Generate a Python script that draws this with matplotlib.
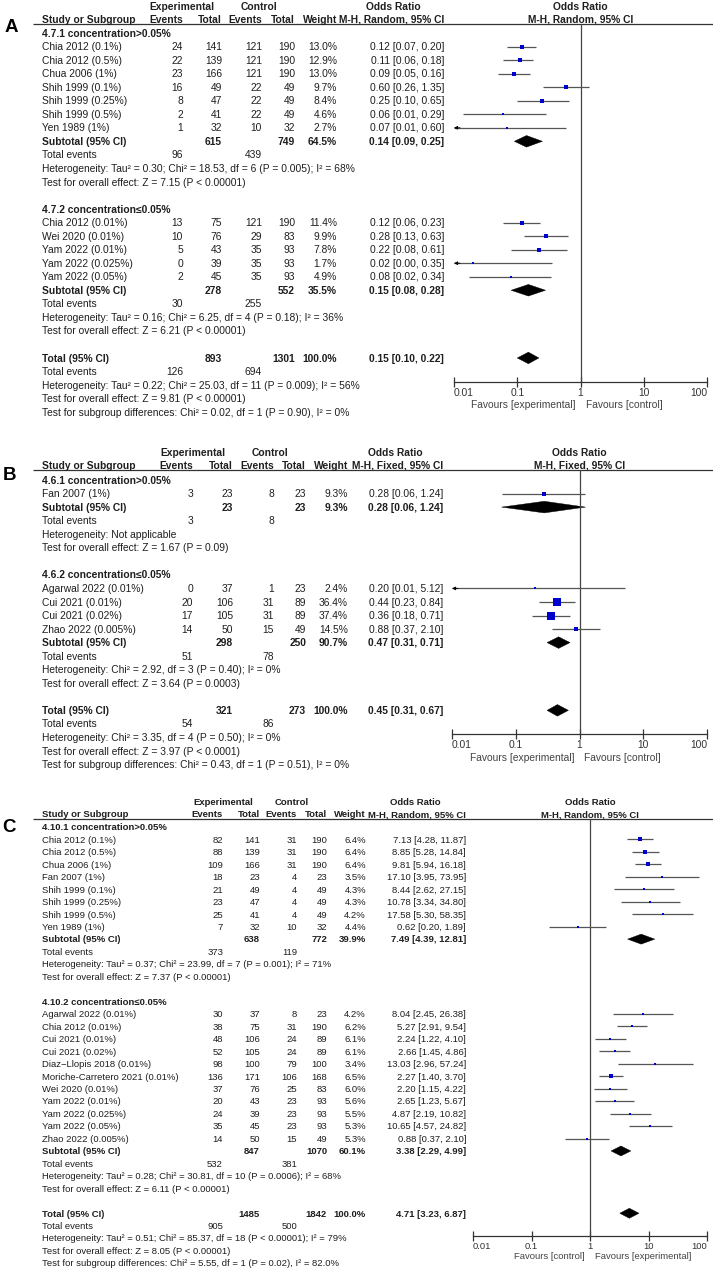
import matplotlib
matplotlib.use('Agg')
import matplotlib.pyplot as plt
from matplotlib.patches import Polygon
from matplotlib.ticker import NullLocator
from matplotlib.transforms import offset_copy
import math

plt.rcParams['font.family'] = ['Liberation Sans', 'DejaVu Sans']

W, H, DPI = 713, 1269, 100
TXT = '#1e1e1e'
GREY = '#555555'
BLUE = '#0000cc'

# ======================= Panel A data =======================
A1_title = "4.7.1 concentration>0.05%"
A1_study = ["Chia 2012 (0.1%)", "Chia 2012 (0.5%)", "Chua 2006 (1%)", "Shih 1999 (0.1%)",
            "Shih 1999 (0.25%)", "Shih 1999 (0.5%)", "Yen 1989 (1%)"]
A1_exp_events = [24, 22, 23, 16, 8, 2, 1]
A1_exp_total = [141, 139, 166, 49, 47, 41, 32]
A1_ctl_events = [121, 121, 121, 22, 22, 22, 10]
A1_ctl_total = [190, 190, 190, 49, 49, 49, 32]
A1_weight = [13.0, 12.9, 13.0, 9.7, 8.4, 4.6, 2.7]
A1_or = [0.12, 0.11, 0.09, 0.60, 0.25, 0.06, 0.07]
A1_lo = [0.07, 0.06, 0.05, 0.26, 0.10, 0.014, 0.0085]
A1_hi = [0.20, 0.18, 0.16, 1.35, 0.65, 0.29, 0.60]
A1_sub_n = [615, 749]
A1_sub_weight = 64.5
A1_sub_ci = [0.14, 0.09, 0.25]
A1_sub_events = [96, 439]
A1_het = "Heterogeneity: Tau\u00b2 = 0.30; Chi\u00b2 = 18.53, df = 6 (P = 0.005); I\u00b2 = 68%"
A1_test = "Test for overall effect: Z = 7.15 (P < 0.00001)"

A2_title = "4.7.2 concentration\u22640.05%"
A2_study = ["Chia 2012 (0.01%)", "Wei 2020 (0.01%)", "Yam 2022 (0.01%)", "Yam 2022 (0.025%)",
            "Yam 2022 (0.05%)"]
A2_exp_events = [13, 10, 5, 0, 2]
A2_exp_total = [75, 76, 43, 39, 45]
A2_ctl_events = [121, 29, 35, 35, 35]
A2_ctl_total = [190, 83, 93, 93, 93]
A2_weight = [11.4, 9.9, 7.8, 1.7, 4.9]
A2_or = [0.12, 0.28, 0.22, 0.02, 0.08]
A2_lo = [0.06, 0.13, 0.08, 0.001, 0.017]
A2_hi = [0.23, 0.63, 0.61, 0.35, 0.34]
A2_sub_n = [278, 552]
A2_sub_weight = 35.5
A2_sub_ci = [0.15, 0.08, 0.28]
A2_sub_events = [30, 255]
A2_het = "Heterogeneity: Tau\u00b2 = 0.16; Chi\u00b2 = 6.25, df = 4 (P = 0.18); I\u00b2 = 36%"
A2_test = "Test for overall effect: Z = 6.21 (P < 0.00001)"

A_total_n = [893, 1301]
A_total_ci = [0.15, 0.10, 0.22]
A_total_events = [126, 694]
A_total_het = "Heterogeneity: Tau\u00b2 = 0.22; Chi\u00b2 = 25.03, df = 11 (P = 0.009); I\u00b2 = 56%"
A_total_test = "Test for overall effect: Z = 9.81 (P < 0.00001)"
A_subgroup_test = "Test for subgroup differences: Chi\u00b2 = 0.02, df = 1 (P = 0.90), I\u00b2 = 0%"

# ======================= Panel B data =======================
B1_title = "4.6.1 concentration>0.05%"
B1_study = ["Fan 2007 (1%)"]
B1_exp_events = [3]
B1_exp_total = [23]
B1_ctl_events = [8]
B1_ctl_total = [23]
B1_weight = [9.3]
B1_or = [0.28]
B1_lo = [0.06]
B1_hi = [1.24]
B1_sub_n = [23, 23]
B1_sub_weight = 9.3
B1_sub_ci = [0.28, 0.06, 1.24]
B1_sub_events = [3, 8]
B1_het = "Heterogeneity: Not applicable"
B1_test = "Test for overall effect: Z = 1.67 (P = 0.09)"

B2_title = "4.6.2 concentration\u22640.05%"
B2_study = ["Agarwal 2022 (0.01%)", "Cui 2021 (0.01%)", "Cui 2021 (0.02%)", "Zhao 2022 (0.005%)"]
B2_exp_events = [0, 20, 17, 14]
B2_exp_total = [37, 106, 105, 50]
B2_ctl_events = [1, 31, 31, 15]
B2_ctl_total = [23, 89, 89, 49]
B2_weight = [2.4, 36.4, 37.4, 14.5]
B2_or = [0.20, 0.44, 0.36, 0.88]
B2_lo = [0.008, 0.23, 0.18, 0.37]
B2_hi = [5.12, 0.84, 0.71, 2.10]
B2_sub_n = [298, 250]
B2_sub_weight = 90.7
B2_sub_ci = [0.47, 0.31, 0.71]
B2_sub_events = [51, 78]
B2_het = "Heterogeneity: Chi\u00b2 = 2.92, df = 3 (P = 0.40); I\u00b2 = 0%"
B2_test = "Test for overall effect: Z = 3.64 (P = 0.0003)"

B_total_n = [321, 273]
B_total_ci = [0.45, 0.31, 0.67]
B_total_events = [54, 86]
B_total_het = "Heterogeneity: Chi\u00b2 = 3.35, df = 4 (P = 0.50); I\u00b2 = 0%"
B_total_test = "Test for overall effect: Z = 3.97 (P < 0.0001)"
B_subgroup_test = "Test for subgroup differences: Chi\u00b2 = 0.43, df = 1 (P = 0.51), I\u00b2 = 0%"

# ======================= Panel C data =======================
C1_title = "4.10.1 concentration>0.05%"
C1_study = ["Chia 2012 (0.1%)", "Chia 2012 (0.5%)", "Chua 2006 (1%)", "Fan 2007 (1%)",
            "Shih 1999 (0.1%)", "Shih 1999 (0.25%)", "Shih 1999 (0.5%)", "Yen 1989 (1%)"]
C1_exp_events = [82, 88, 109, 18, 21, 23, 25, 7]
C1_exp_total = [141, 139, 166, 23, 49, 47, 41, 32]
C1_ctl_events = [31, 31, 31, 4, 4, 4, 4, 10]
C1_ctl_total = [190, 190, 190, 23, 49, 49, 49, 32]
C1_weight = [6.4, 6.4, 6.4, 3.5, 4.3, 4.3, 4.2, 4.4]
C1_or = [7.13, 8.85, 9.81, 17.10, 8.44, 10.78, 17.58, 0.62]
C1_lo = [4.28, 5.28, 5.94, 3.95, 2.62, 3.34, 5.30, 0.20]
C1_hi = [11.87, 14.84, 16.18, 73.95, 27.15, 34.80, 58.35, 1.89]
C1_sub_n = [638, 772]
C1_sub_weight = 39.9
C1_sub_ci = [7.49, 4.39, 12.81]
C1_sub_events = [373, 119]
C1_het = "Heterogeneity: Tau\u00b2 = 0.37; Chi\u00b2 = 23.99, df = 7 (P = 0.001); I\u00b2 = 71%"
C1_test = "Test for overall effect: Z = 7.37 (P < 0.00001)"

C2_title = "4.10.2 concentration\u22640.05%"
C2_study = ["Agarwal 2022 (0.01%)", "Chia 2012 (0.01%)", "Cui 2021 (0.01%)", "Cui 2021 (0.02%)",
            "Diaz\u2212Llopis 2018 (0.01%)", "Moriche-Carretero 2021 (0.01%)", "Wei 2020 (0.01%)",
            "Yam 2022 (0.01%)", "Yam 2022 (0.025%)", "Yam 2022 (0.05%)", "Zhao 2022 (0.005%)"]
C2_exp_events = [30, 38, 48, 52, 98, 136, 37, 20, 24, 35, 14]
C2_exp_total = [37, 75, 106, 105, 100, 171, 76, 43, 39, 45, 50]
C2_ctl_events = [8, 31, 24, 24, 79, 106, 25, 23, 23, 23, 15]
C2_ctl_total = [23, 190, 89, 89, 100, 168, 83, 93, 93, 93, 49]
C2_weight = [4.2, 6.2, 6.1, 6.1, 3.4, 6.5, 6.0, 5.6, 5.5, 5.3, 5.3]
C2_or = [8.04, 5.27, 2.24, 2.66, 13.03, 2.27, 2.20, 2.65, 4.87, 10.65, 0.88]
C2_lo = [2.45, 2.91, 1.22, 1.45, 2.96, 1.40, 1.15, 1.23, 2.19, 4.57, 0.37]
C2_hi = [26.38, 9.54, 4.10, 4.86, 57.24, 3.70, 4.22, 5.67, 10.82, 24.82, 2.10]
C2_sub_n = [847, 1070]
C2_sub_weight = 60.1
C2_sub_ci = [3.38, 2.29, 4.99]
C2_sub_events = [532, 381]
C2_het = "Heterogeneity: Tau\u00b2 = 0.28; Chi\u00b2 = 30.81, df = 10 (P = 0.0006); I\u00b2 = 68%"
C2_test = "Test for overall effect: Z = 6.11 (P < 0.00001)"

C_total_n = [1485, 1842]
C_total_ci = [4.71, 3.23, 6.87]
C_total_events = [905, 500]
C_total_het = "Heterogeneity: Tau\u00b2 = 0.51; Chi\u00b2 = 85.37, df = 18 (P < 0.00001); I\u00b2 = 79%"
C_total_test = "Test for overall effect: Z = 8.05 (P < 0.00001)"
C_subgroup_test = "Test for subgroup differences: Chi\u00b2 = 5.55, df = 1 (P = 0.02), I\u00b2 = 82.0%"

AXIS_TICKS = [0.01, 0.1, 1, 10, 100]
AXIS_LABELS = ["0.01", "0.1", "1", "10", "100"]


def group(title, study, ee, te, ec, tc, w, o, lo, hi, sub_n, sub_w, sub_ci, sub_ev, het, test):
    return dict(title=title, study=study, ee=ee, te=te, ec=ec, tc=tc, w=w, o=o, lo=lo, hi=hi,
                sub_n=sub_n, sub_w=sub_w, sub_ci=sub_ci, sub_ev=sub_ev, het=het, test=test)


A_groups = [group(A1_title, A1_study, A1_exp_events, A1_exp_total, A1_ctl_events, A1_ctl_total,
                  A1_weight, A1_or, A1_lo, A1_hi, A1_sub_n, A1_sub_weight, A1_sub_ci, A1_sub_events,
                  A1_het, A1_test),
            group(A2_title, A2_study, A2_exp_events, A2_exp_total, A2_ctl_events, A2_ctl_total,
                  A2_weight, A2_or, A2_lo, A2_hi, A2_sub_n, A2_sub_weight, A2_sub_ci, A2_sub_events,
                  A2_het, A2_test)]
B_groups = [group(B1_title, B1_study, B1_exp_events, B1_exp_total, B1_ctl_events, B1_ctl_total,
                  B1_weight, B1_or, B1_lo, B1_hi, B1_sub_n, B1_sub_weight, B1_sub_ci, B1_sub_events,
                  B1_het, B1_test),
            group(B2_title, B2_study, B2_exp_events, B2_exp_total, B2_ctl_events, B2_ctl_total,
                  B2_weight, B2_or, B2_lo, B2_hi, B2_sub_n, B2_sub_weight, B2_sub_ci, B2_sub_events,
                  B2_het, B2_test)]
C_groups = [group(C1_title, C1_study, C1_exp_events, C1_exp_total, C1_ctl_events, C1_ctl_total,
                  C1_weight, C1_or, C1_lo, C1_hi, C1_sub_n, C1_sub_weight, C1_sub_ci, C1_sub_events,
                  C1_het, C1_test),
            group(C2_title, C2_study, C2_exp_events, C2_exp_total, C2_ctl_events, C2_ctl_total,
                  C2_weight, C2_or, C2_lo, C2_hi, C2_sub_n, C2_sub_weight, C2_sub_ci, C2_sub_events,
                  C2_het, C2_test)]

A_total = dict(n=A_total_n, ci=A_total_ci, ev=A_total_events, het=A_total_het, test=A_total_test,
               sub=A_subgroup_test)
B_total = dict(n=B_total_n, ci=B_total_ci, ev=B_total_events, het=B_total_het, test=B_total_test,
               sub=B_subgroup_test)
C_total = dict(n=C_total_n, ci=C_total_ci, ev=C_total_events, het=C_total_het, test=C_total_test,
               sub=C_subgroup_test)

# layouts (pixel positions)
A_layout = dict(letter='A', letter_xy=(11, 28), line_y=24, h1off=18, name_x=42,
                cols=(183, 222, 262, 295, 337, 444), head1=(182, 259, 393), y0=33, step=13.54,
                fs=7.4, px0=454, px1=707, axis_y=382, method='M-H, Random, 95% CI',
                fav=('Favours [experimental]', 'Favours [control]'), fav_dy=22, dh=5.8)
B_layout = dict(letter='B', letter_xy=(9, 475), line_y=470, h1off=18, name_x=42,
                cols=(193, 233, 274, 306, 348, 443), head1=(193, 270, 395), y0=480, step=13.55,
                fs=7.4, px0=452, px1=707, axis_y=734, method='M-H, Fixed, 95% CI',
                fav=('Favours [experimental]', 'Favours [control]'), fav_dy=23, dh=5.8)
C_layout = dict(letter='C', letter_xy=(9, 827), line_y=819, h1off=17, name_x=42,
                cols=(223, 260, 297, 327, 366, 466), head1=(223, 292, 415), y0=827, step=12.46,
                fs=6.8, px0=473, px1=707, axis_y=1236, method='M-H, Random, 95% CI',
                fav=('Favours [control]', 'Favours [experimental]'), fav_dy=20, dh=5.0)

fig = plt.figure(figsize=(W / DPI, H / DPI), dpi=DPI)
axF = fig.add_axes([0, 0, 1, 1])
axF.set_xlim(0, W)
axF.set_ylim(H, 0)
axF.axis('off')


def fmt_ci(o, lo, hi):
    return f"{o:.2f} [{lo:.2f}, {hi:.2f}]"


def put(ax, x, y, s, fs, ha='left', bold=False, color=TXT, transform=None):
    kw = {}
    if transform is not None:
        kw['transform'] = transform
    ax.text(x, y + 0.35 * fs * DPI / 72, s, ha=ha, va='baseline', fontsize=fs,
            fontweight='bold' if bold else 'normal', color=color, **kw)


def draw_panel(L, groups, total):
    fs = L['fs']
    ce, cte, cc, ctc, cw, cci = L['cols']
    ly = L['line_y']
    nx = L['name_x']
    axF.text(L['letter_xy'][0], L['letter_xy'][1], L['letter'], ha='center', va='center',
             fontsize=13.5, fontweight='bold', color='black')
    axF.plot([33, W], [ly, ly], color='#333333', lw=0.9, solid_capstyle='butt')
    h1 = ly - L['h1off']
    h2 = ly - 5
    put(axF, L['head1'][0], h1, 'Experimental', fs, 'center', True)
    put(axF, L['head1'][1], h1, 'Control', fs, 'center', True)
    put(axF, L['head1'][2], h1, 'Odds Ratio', fs, 'center', True)
    put(axF, nx, h2, 'Study or Subgroup', fs, 'left', True)
    for x, s in zip(L['cols'], ['Events', 'Total', 'Events', 'Total', 'Weight', L['method']]):
        put(axF, x, h2, s, fs, 'right', True)

    ax = fig.add_axes([L['px0'] / W, 1 - L['axis_y'] / H, (L['px1'] - L['px0']) / W,
                       (L['axis_y'] - ly) / H])
    ax.set_xscale('log')
    ax.set_xlim(0.01, 100)
    ax.set_ylim(L['axis_y'], ly)
    ax.patch.set_visible(False)
    for s in ('top', 'left', 'right'):
        ax.spines[s].set_visible(False)
    ax.spines['bottom'].set_color('#333333')
    ax.spines['bottom'].set_linewidth(0.9)
    ax.set_yticks([])
    ax.set_xticks(AXIS_TICKS)
    ax.set_xticklabels(AXIS_LABELS)
    ax.xaxis.set_minor_locator(NullLocator())
    ax.tick_params(axis='x', direction='inout', length=7, width=0.9, color='#333333',
                   labelsize=fs, labelcolor='#333333', pad=0.5)
    labels = ax.get_xticklabels()
    labels[0].set_horizontalalignment('left')
    labels[-1].set_horizontalalignment('right')
    ax.axvline(1, color='#444444', lw=0.9)
    put(ax, 1, h1, 'Odds Ratio', fs, 'center', True)
    put(ax, 1, h2, L['method'], fs, 'center', True)
    tl = offset_copy(ax.transData, fig=fig, x=-5, y=0, units='dots')
    tr = offset_copy(ax.transData, fig=fig, x=5, y=0, units='dots')
    fy = L['axis_y'] + L['fav_dy']
    put(ax, 1, fy, L['fav'][0], fs, 'right', color='#444444', transform=tl)
    put(ax, 1, fy, L['fav'][1], fs, 'left', color='#444444', transform=tr)

    def row_y(r):
        return L['y0'] + r * L['step']

    def diamond(o, lo, hi, y):
        dh = L['dh']
        ax.add_patch(Polygon([[lo, y], [o, y - dh], [hi, y], [o, y + dh]], closed=True,
                             facecolor='black', edgecolor='black', lw=0.3))

    r = 0
    for g in groups:
        put(axF, nx, row_y(r), g['title'], fs, bold=True)
        r += 1
        for i in range(len(g['study'])):
            y = row_y(r)
            put(axF, nx, y, g['study'][i], fs)
            put(axF, ce, y, str(g['ee'][i]), fs, 'right')
            put(axF, cte, y, str(g['te'][i]), fs, 'right')
            put(axF, cc, y, str(g['ec'][i]), fs, 'right')
            put(axF, ctc, y, str(g['tc'][i]), fs, 'right')
            put(axF, cw, y, f"{g['w'][i]:.1f}%", fs, 'right')
            put(axF, cci, y, fmt_ci(g['o'][i], g['lo'][i], g['hi'][i]), fs, 'right')
            lo, hi = g['lo'][i], g['hi'][i]
            ax.plot([max(lo, 0.01), hi], [y, y], color=GREY, lw=0.9, solid_capstyle='butt')
            if lo < 0.01:
                ax.annotate('', xy=(0.01, y), xytext=(0.0125, y),
                            arrowprops=dict(arrowstyle='-|>', color='black', lw=0.6,
                                            mutation_scale=5, shrinkA=0, shrinkB=0))
            side = max(2.0, 1.2 * math.sqrt(g['w'][i]))
            ax.plot([g['o'][i]], [y], marker='s', ms=side * 72 / DPI, color=BLUE, mew=0,
                    linestyle='none')
            r += 1
        y = row_y(r)
        put(axF, nx, y, 'Subtotal (95% CI)', fs, bold=True)
        put(axF, cte, y, str(g['sub_n'][0]), fs, 'right', True)
        put(axF, ctc, y, str(g['sub_n'][1]), fs, 'right', True)
        put(axF, cw, y, f"{g['sub_w']:.1f}%", fs, 'right', True)
        put(axF, cci, y, fmt_ci(*g['sub_ci']), fs, 'right', True)
        diamond(g['sub_ci'][0], g['sub_ci'][1], g['sub_ci'][2], y)
        r += 1
        y = row_y(r)
        put(axF, nx, y, 'Total events', fs)
        put(axF, ce, y, str(g['sub_ev'][0]), fs, 'right')
        put(axF, cc, y, str(g['sub_ev'][1]), fs, 'right')
        r += 1
        put(axF, nx, row_y(r), g['het'], fs)
        r += 1
        put(axF, nx, row_y(r), g['test'], fs)
        r += 2
    y = row_y(r)
    put(axF, nx, y, 'Total (95% CI)', fs, bold=True)
    put(axF, cte, y, str(total['n'][0]), fs, 'right', True)
    put(axF, ctc, y, str(total['n'][1]), fs, 'right', True)
    put(axF, cw, y, "100.0%", fs, 'right', True)
    put(axF, cci, y, fmt_ci(*total['ci']), fs, 'right', True)
    diamond(total['ci'][0], total['ci'][1], total['ci'][2], y)
    r += 1
    y = row_y(r)
    put(axF, nx, y, 'Total events', fs)
    put(axF, ce, y, str(total['ev'][0]), fs, 'right')
    put(axF, cc, y, str(total['ev'][1]), fs, 'right')
    r += 1
    put(axF, nx, row_y(r), total['het'], fs)
    r += 1
    put(axF, nx, row_y(r), total['test'], fs)
    r += 1
    put(axF, nx, row_y(r), total['sub'], fs)


draw_panel(A_layout, A_groups, A_total)
draw_panel(B_layout, B_groups, B_total)
draw_panel(C_layout, C_groups, C_total)

fig.savefig('out.png', dpi=DPI, facecolor='white')
